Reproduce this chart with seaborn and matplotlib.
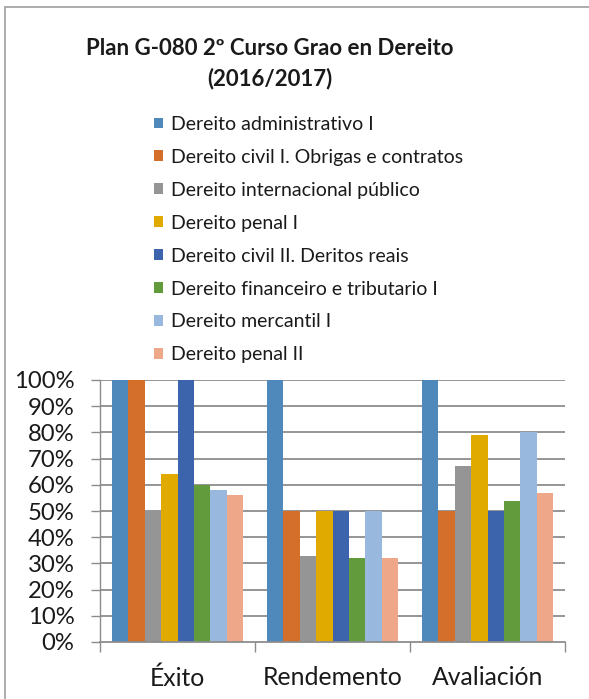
import matplotlib
matplotlib.use("Agg")
import matplotlib.pyplot as plt
import seaborn as sns
import pandas as pd
from matplotlib.lines import Line2D
from matplotlib.patches import Patch

# ---- data ----
categories = ["Éxito", "Rendemento", "Avaliación"]
series = [
    "Dereito administrativo I",
    "Dereito civil I. Obrigas e contratos",
    "Dereito internacional público",
    "Dereito penal I",
    "Dereito civil II. Deritos reais",
    "Dereito financeiro e tributario I",
    "Dereito mercantil I",
    "Dereito penal II",
]
exito = [100, 100, 50, 64, 100, 60, 58, 56]
rendemento = [100, 50, 33, 50, 50, 32, 50, 32]
avaliacion = [100, 50, 67, 79, 50, 54, 80, 57]
y_ticks = [0, 10, 20, 30, 40, 50, 60, 70, 80, 90, 100]
y_tick_labels = ["0%", "10%", "20%", "30%", "40%", "50%", "60%", "70%", "80%", "90%", "100%"]
title = "Plan G-080 2º Curso Grao en Dereito\n(2016/2017)"

colors = ["#4F88BB", "#D36F2B", "#959595", "#E0AA00",
          "#3B64AD", "#629B3C", "#98B8DE", "#EFA78A"]

rows = []
for cat, vals in zip(categories, [exito, rendemento, avaliacion]):
    for s, v in zip(series, vals):
        rows.append({"cat": cat, "serie": s, "val": v})
df = pd.DataFrame(rows)

sns.set_theme(style="white")
plt.rcParams["font.family"] = ["Lato", "DejaVu Sans"]

fig = plt.figure(figsize=(5.89, 6.99), dpi=100)
ax = fig.add_axes([100 / 589, 57 / 699, 465 / 589, 262 / 699])

sns.barplot(data=df, x="cat", y="val", hue="serie", order=categories,
            hue_order=series, palette=colors, width=0.85, gap=0,
            linewidth=0, saturation=1, ax=ax, legend=False, errorbar=None)

ax.set_ylim(0, 100)
ax.set_xlim(-0.5, 2.5)
ax.set_yticks(y_ticks)
ax.set_yticklabels(y_tick_labels)
ax.set_xlabel("")
ax.set_ylabel("")

grid_c = "#8C8C8C"
for y in y_ticks[1:]:
    ax.axhline(y, color=grid_c, lw=1.3, zorder=0)

for s in ["top", "right"]:
    ax.spines[s].set_visible(False)
ax.spines["left"].set_color(grid_c)
ax.spines["left"].set_linewidth(1.0)
ax.spines["bottom"].set_color(grid_c)
ax.spines["bottom"].set_linewidth(1.3)
ax.spines["left"].set_zorder(0.5)

ax.tick_params(axis="y", length=6.5, width=1, color=grid_c, pad=12,
               labelsize=17.2, left=True, labelcolor="#1a1a1a")
ax.set_xticks([0, 1, 2])
ax.set_xticklabels(categories)
ax.tick_params(axis="x", length=0, pad=17.5, labelsize=17.8, labelcolor="#1a1a1a")
ax.set_xticks([-0.5, 0.5, 1.5, 2.5], minor=True)
ax.tick_params(axis="x", which="minor", length=7.5, width=1, color=grid_c, bottom=True)

# legend
handles = [Patch(facecolor=c, edgecolor="none") for c in colors]
fig.legend(handles, series, loc="upper left",
           bbox_to_anchor=(146 / 589, 1 - 108 / 699), frameon=False,
           fontsize=14, handlelength=0.47, handleheight=0.47,
           handletextpad=0.4, labelspacing=0.82, borderaxespad=0,
           labelcolor="#1a1a1a")

fig.text(270 / 589, 1 - 63.5 / 699, title, ha="center", va="center",
         fontsize=16, fontweight="bold", color="#1a1a1a", linespacing=1.5)

# chart border
fig.add_artist(Line2D([5 / 589, 5 / 589], [0, 1 - 7 / 699], color="#A6A6A6", lw=1.3,
                      transform=fig.transFigure))
fig.add_artist(Line2D([5 / 589, 1], [1 - 7 / 699, 1 - 7 / 699], color="#A6A6A6", lw=1.3,
                      transform=fig.transFigure))

fig.savefig("out.png", dpi=100, facecolor="white")
